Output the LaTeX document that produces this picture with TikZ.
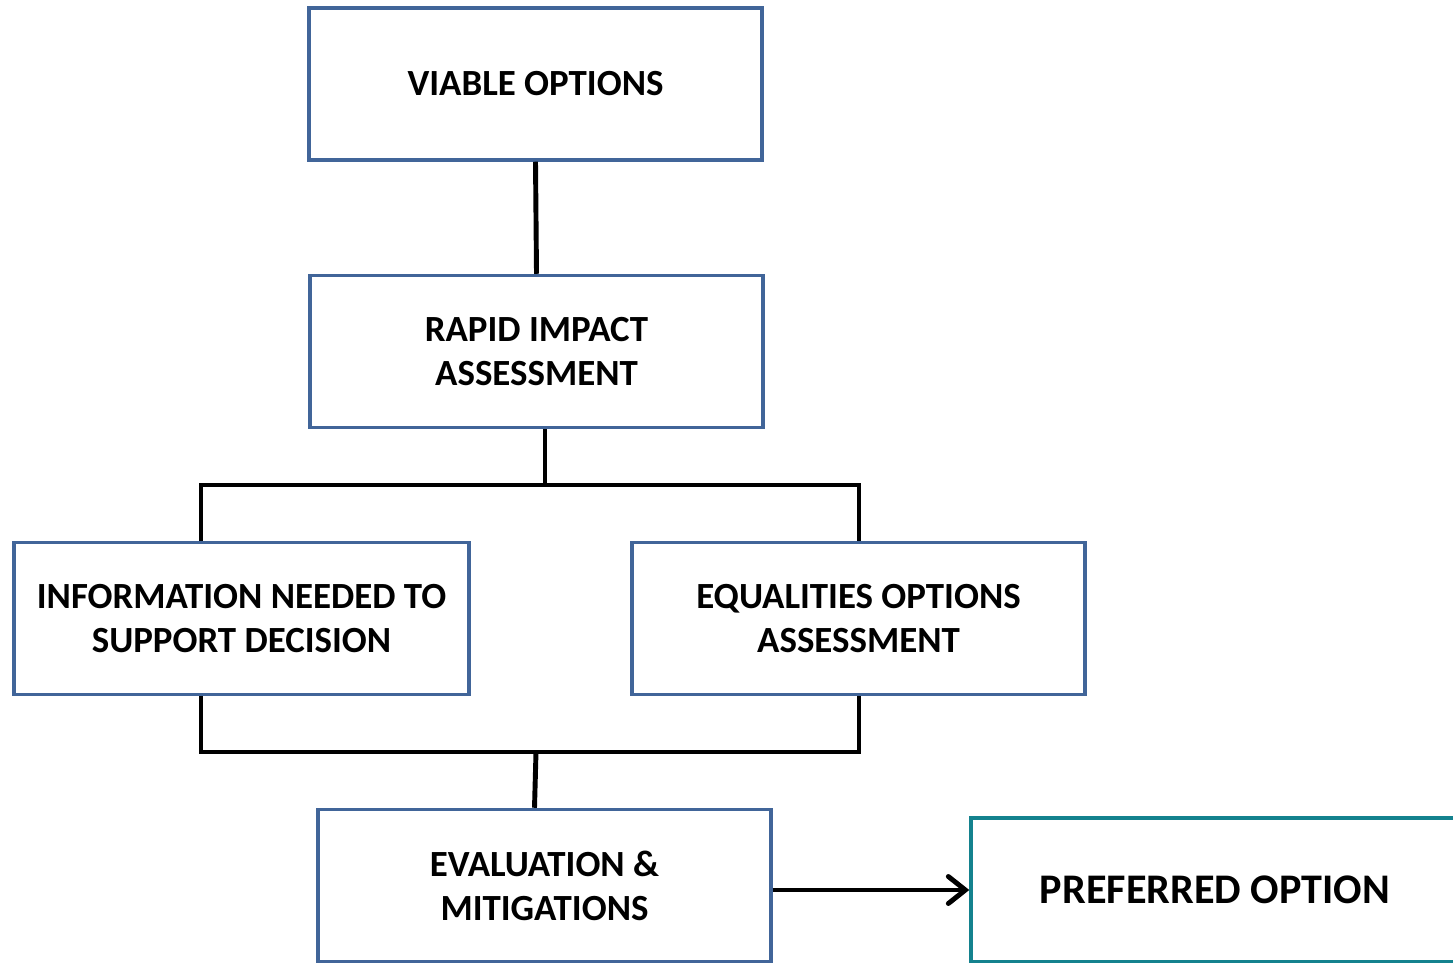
\documentclass[tikz,border=0pt]{standalone}
\usepackage{fontspec}
\setmainfont{Carlito}
\usetikzlibrary{arrows.meta}

\definecolor{boxblue}{RGB}{65,101,153}
\definecolor{boxteal}{RGB}{20,130,142}

\tikzset{
  stage/.style={draw=boxblue,line width=2pt,minimum width=9.06cm,minimum height=3.04cm,
    align=center,font=\fontsize{21}{25}\selectfont\bfseries},
  conn/.style={line width=2.8pt,black},
}

\begin{document}
\begin{tikzpicture}[x=0.02cm,y=-0.02cm]
\useasboundingbox (0,0) rectangle (1453,963);
% boxes
\node[stage] (Viable) at (535.5,84) {VIABLE OPTIONS};
\node[stage] (Rapid) at (536.5,351.5) {RAPID IMPACT\\ASSESSMENT};
\node[stage,minimum width=9.1cm] (Info) at (241.5,618.5) {INFORMATION NEEDED TO\\SUPPORT DECISION};
\node[stage] (Equal) at (858.5,618.5) {EQUALITIES OPTIONS\\ASSESSMENT};
\node[stage] (Eval) at (544.5,885.5) {EVALUATION \&\\MITIGATIONS};
\node[stage,draw=boxteal,minimum width=9.76cm,minimum height=2.88cm,
  font=\fontsize{24}{28}\selectfont\bfseries] (Pref) at (1215,890) {PREFERRED OPTION};
% connectors
\coordinate (topbar) at (545,485);
\coordinate (barL) at (201,485);
\coordinate (barR) at (859,485);
\coordinate (lowL) at (201,752);
\coordinate (lowR) at (859,752);
\coordinate (lowM) at (536,752);
\draw[conn] (Viable.south) -- (Rapid.north);
\draw[conn] (topbar |- Rapid.south) -- (topbar);
\draw[conn] (barL |- Info.north) -- (barL) -- (barR) -- (barR |- Equal.north);
\draw[conn] (lowL |- Info.south) -- (lowL) -- (lowR) -- (lowR |- Equal.south);
\draw[conn] (lowM) -- ([xshift=-0.2cm]Eval.north);
\draw[conn,-{Straight Barb[length=3.4mm,width=5.4mm,line cap=round]}] (Eval.east |- Pref.west) -- (Pref.west);
\end{tikzpicture}
\end{document}
